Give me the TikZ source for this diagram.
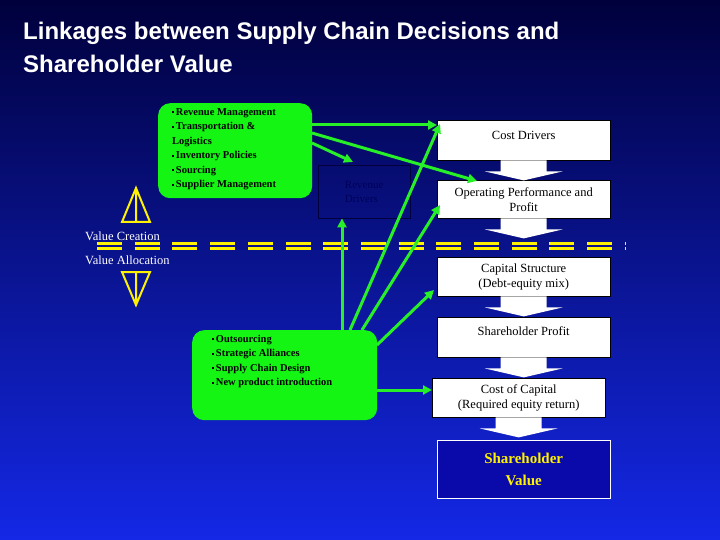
\documentclass[tikz,border=0pt]{standalone}
\usepackage{fontspec}
\setmainfont{Liberation Serif}
\newfontfamily\arial{Liberation Sans}
\usetikzlibrary{arrows.meta,calc}
\newcommand\sqb{\raisebox{2pt}{\rule{2pt}{2pt}}\,}
\begin{document}
\begin{tikzpicture}[x=1pt,y=-1pt,
  wbox/.style={draw=black,fill=white,minimum width=173pt,align=center,inner sep=0pt,font=\fontsize{12.5}{15}\selectfont},
  gbox/.style={fill={rgb,255:red,20;green,245;blue,20},rounded corners=12pt,inner sep=0pt},
  gtext/.style={anchor=north west,align=left,font=\bfseries\fontsize{10.5}{14.5}\selectfont,inner sep=0pt},
  garr/.style={draw={rgb,255:red,40;green,240;blue,40},line width=3pt,-{Triangle[length=9pt,width=9pt]}},
  tri/.style={draw=yellow,line width=2pt,line join=miter}]
\shade[top color={rgb,255:red,0;green,0;blue,60},bottom color={rgb,255:red,20;green,40;blue,230}] (0,0) rectangle (720,540);
\useasboundingbox (0,0) rectangle (720,540);
\node[anchor=north west,text=white,font=\arial\bfseries\fontsize{24}{33}\selectfont,align=left,inner sep=0pt] (title) at (23,22) {Linkages between Supply Chain Decisions and\\Shareholder Value};
% dashed line
\draw[yellow,line width=2.2pt,dash pattern=on 25pt off 12.7pt] (97,243.5) -- (625,243.5);
\draw[yellow,line width=2.2pt,dash pattern=on 25pt off 12.7pt] (97,248.5) -- (625,248.5);
% white boxes
\node[wbox,minimum height=40pt,anchor=north west] (cd) at (437,120) {\raisebox{10pt}{Cost Drivers}};
\node[wbox,minimum height=38pt,anchor=north west] (op) at (437,180) {Operating Performance and\\Profit};
\node[wbox,minimum height=39pt,anchor=north west] (cs) at (437,257) {Capital Structure\\(Debt-equity mix)};
\node[wbox,minimum height=40pt,anchor=north west] (sp) at (437,317) {\raisebox{12pt}{Shareholder Profit}};
\node[wbox,minimum height=39pt,anchor=north west] (cc) at (432,378) {Cost of Capital\\(Required equity return)};
\node[draw=white,fill={rgb,255:red,10;green,10;blue,170},minimum width=173pt,minimum height=58pt,anchor=north west,align=center,text=yellow,font=\bfseries\fontsize{15}{22}\selectfont] (sv) at (437,440) {Shareholder\\Value};
% block arrows
\foreach \a in {cd,op,cs,sp,cc}{
  \path (\a.south) coordinate (p);
  \path ($(p)+(0,11)$) coordinate (m);
  \fill[white] ($(p)+(-23,0)$) -- ($(p)+(23,0)$) -- ($(m)+(23,0)$) -- ($(m)+(39,0)$) -- ($(p)+(0,20)$) -- ($(m)+(-39,0)$) -- ($(m)+(-23,0)$) -- cycle;
}
% revenue drivers box
\node[draw={rgb,255:red,0;green,0;blue,60},minimum width=92pt,minimum height=53pt,anchor=north west,align=left,text={rgb,255:red,0;green,0;blue,90},font=\fontsize{11}{14}\selectfont] (rd) at (318,165) {Revenue\\Drivers};
% green boxes
\node[gbox,minimum width=154pt,minimum height=95pt,anchor=north west] (g1) at (158,103) {};
\node[gtext] (g1t) at (172,108) {\sqb Revenue Management\\\sqb Transportation \&\\Logistics\\\sqb Inventory Policies\\\sqb Sourcing\\\sqb Supplier Management};
\node[gbox,minimum width=185pt,minimum height=90pt,anchor=north west] (g2) at (192,330) {};
\node[gtext] (g2t) at (212,335) {\sqb Outsourcing\\\sqb Strategic Alliances\\\sqb Supply Chain Design\\\sqb New product introduction};
\node[anchor=west,text=white,font=\fontsize{12.5}{15}\selectfont,inner sep=0pt] (vc) at (85,236) {Value Creation};
\node[anchor=west,text=white,font=\fontsize{12.5}{15}\selectfont,inner sep=0pt] (va) at (85,260) {Value Allocation};
% triangles
\draw[tri] (122,222) -- (136,188) -- (150,222) -- cycle (136,188) -- (136,222);
\draw[tri] (122,272) -- (150,272) -- (136,305) -- cycle (136,272) -- (136,305);
% green arrows
\draw[garr] (312,125) -- (cd.west |- 0,125);
\draw[garr] (312,133) -- (477,181);
\draw[garr] (312,143) -- (353,162);
\draw[garr] (342,330) -- (rd.south -| 342,0);
\draw[garr] (350,330) -- (440,124);
\draw[garr] (362,330) -- (440,205);
\draw[garr] (377,345) -- (434,290);
\draw[garr] (377,390) -- (cc.west |- 0,390);
\end{tikzpicture}
\end{document}
